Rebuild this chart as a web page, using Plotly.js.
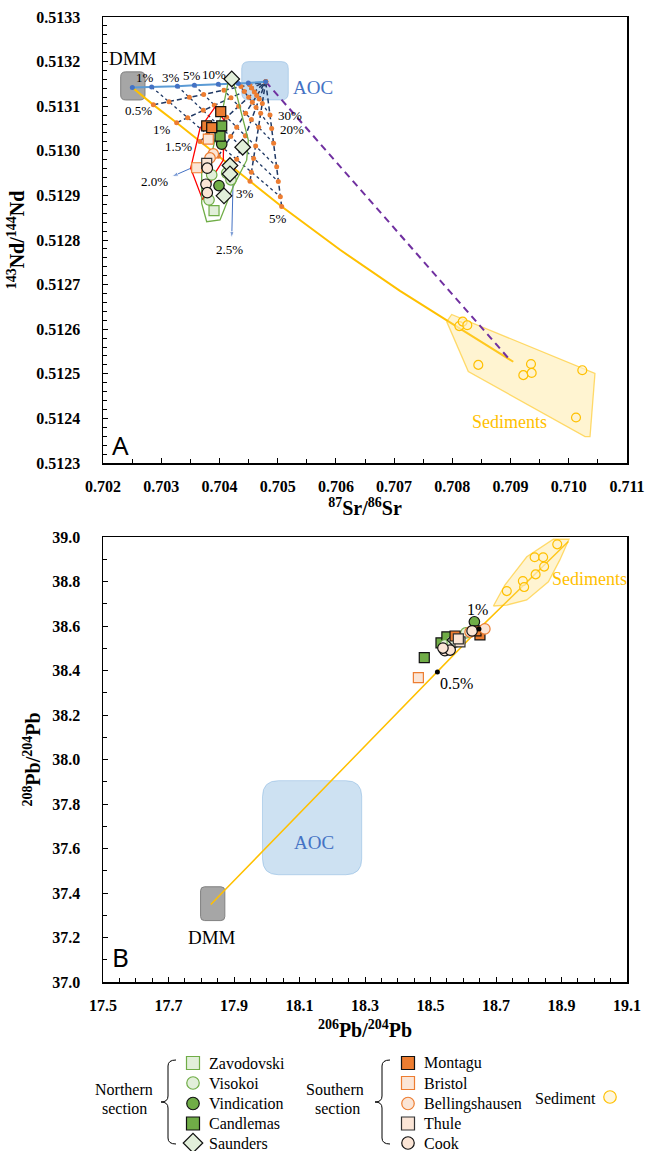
<!DOCTYPE html>
<html><head><meta charset="utf-8">
<script src="https://cdn.plot.ly/plotly-3.0.1.min.js"></script>
<style>body{margin:0;background:#fff}#chart{width:650px;height:1151px}</style>
</head><body><div id="chart"></div>
<script>
// ================= DATA =================
// ---- Panel A: 87Sr/86Sr vs 143Nd/144Nd ----
const zavodovskiSr = [0.703907];
const zavodovskiNd = [0.512866];
const visokoiSr = [0.703867, 0.704125, 0.704198, 0.703821];
const visokoiNd = [0.512946, 0.512950, 0.512935, 0.512890];
const vindicationSr = [0.704039, 0.703992];
const vindicationNd = [0.513015, 0.512922];
const candlemasSr = [0.704039, 0.704010];
const candlemasNd = [0.513056, 0.513033];
const saundersSr = [0.704211, 0.704399, 0.704181, 0.704181, 0.704078];
const saundersNd = [0.513161, 0.513008, 0.512967, 0.512948, 0.512899];
const montaguSr = [0.704022, 0.703781, 0.703867];
const montaguNd = [0.513088, 0.513056, 0.513052];
const bristolSr = [0.703809, 0.703609];
const bristolNd = [0.513026, 0.512962];
const bellingSr = [0.703894, 0.703838];
const bellingNd = [0.512993, 0.512984];
const thuleSr = [0.703781];
const thuleNd = [0.512972];
const cookSr = [0.703791, 0.703769, 0.703791];
const cookNd = [0.512961, 0.512925, 0.512906];
const sedimentSr = [0.708120, 0.708178, 0.708257, 0.708446, 0.709351, 0.709219, 0.709363, 0.710232, 0.710124];
const sedimentNd = [0.512607, 0.512617, 0.512609, 0.512520, 0.512522, 0.512497, 0.512502, 0.512508, 0.512402];

// fields (outlines)
const sedFieldSr = [0.707903, 0.707989, 0.710450, 0.710365, 0.710279, 0.708274, 0.707903];
const sedFieldNd = [0.512617, 0.512633, 0.512501, 0.512359, 0.512359, 0.512505, 0.512617];
const southFieldSr = [0.703924, 0.704078, 0.704066, 0.703924, 0.703712, 0.703506, 0.703666, 0.703924];
const southFieldNd = [0.513098, 0.513069, 0.512979, 0.512950, 0.512890, 0.512961, 0.513050, 0.513098];
const northFieldSr = [0.704152, 0.704238, 0.704496, 0.704468, 0.704238, 0.704010, 0.703781, 0.703695, 0.703695, 0.703838, 0.703953, 0.704066, 0.704152];
const northFieldNd = [0.513155, 0.513155, 0.513024, 0.512979, 0.512920, 0.512845, 0.512841, 0.512882, 0.512950, 0.512979, 0.513039, 0.513099, 0.513155];

// end-member boxes [x0, x1, y0, y1]
const dmmBoxA = [0.702304, 0.702721, 0.513114, 0.513177];
const aocBoxA = [0.704382, 0.705183, 0.513114, 0.513200];

// DMM–AOC mixing (DMM, 1, 3, 5, 10, 20, 30 %, AOC)
const aocMixSr = [0.702504, 0.702836, 0.703277, 0.703569, 0.703981, 0.704324, 0.704496, 0.704794];
const aocMixNd = [0.513142, 0.513143, 0.513145, 0.513147, 0.513149, 0.513151, 0.513152, 0.513155];
// DMM–sediment mixing (DMM, 0.5, 1, 1.5, 2, 2.5, 3, 5 %, ... sediment)
const sedMixSr = [0.702504, 0.702865, 0.703265, 0.703666, 0.703981, 0.704239, 0.704525, 0.705069, 0.706071, 0.707101, 0.707926, 0.709047];
const sedMixNd = [0.513142, 0.513103, 0.513063, 0.513021, 0.512988, 0.512961, 0.512932, 0.512875, 0.512778, 0.512686, 0.512618, 0.512527];
// AOC–sediment (purple dashed)
const aocSedSr = [0.704794, 0.708990];
const aocSedNd = [0.513155, 0.512531];
// three-component grid: lines of constant sediment fraction (to AOC)
const grid05Sr = [0.702865, 0.703134, 0.703483, 0.703729, 0.704078, 0.704370, 0.704519, 0.704794];
const grid05Nd = [0.513103, 0.513110, 0.513120, 0.513126, 0.513136, 0.513144, 0.513148, 0.513155];
const grid1Sr = [0.703265, 0.703454, 0.703723, 0.703912, 0.704198, 0.704427, 0.704553, 0.704794];
const grid1Nd = [0.513063, 0.513074, 0.513091, 0.513102, 0.513119, 0.513133, 0.513141, 0.513155];
const grid15Sr = [0.703666, 0.703792, 0.703981, 0.704124, 0.704330, 0.704502, 0.704599, 0.704794];
const grid15Nd = [0.513021, 0.513036, 0.513059, 0.513075, 0.513100, 0.513120, 0.513132, 0.513155];
const grid2Sr = [0.703981, 0.704067, 0.704193, 0.704296, 0.704450, 0.704565, 0.704639, 0.704794];
const grid2Nd = [0.512988, 0.513006, 0.513032, 0.513053, 0.513084, 0.513109, 0.513124, 0.513155];
const grid25Sr = [0.704239, 0.704296, 0.704376, 0.704445, 0.704548, 0.704628, 0.704685, 0.704794];
const grid25Nd = [0.512961, 0.512981, 0.513009, 0.513034, 0.513070, 0.513097, 0.513116, 0.513155];
const grid3Sr = [0.704525, 0.704548, 0.704588, 0.704622, 0.704674, 0.704708, 0.704737, 0.704794];
const grid3Nd = [0.512932, 0.512952, 0.512983, 0.513011, 0.513053, 0.513084, 0.513106, 0.513155];
const grid5Sr = [0.705069, 0.705046, 0.705011, 0.704983, 0.704931, 0.704897, 0.704868, 0.704794];
const grid5Nd = [0.512875, 0.512897, 0.512931, 0.512964, 0.513017, 0.513050, 0.513080, 0.513155];
// pointer arrows for the 2.0 % and 2.5 % labels (tail, head)
const arrow20Sr = [0.703981, 0.703180];
const arrow20Nd = [0.512988, 0.512942];
const arrow25Sr = [0.704239, 0.704211];
const arrow25Nd = [0.512961, 0.512804];

// ---- Panel B: 206Pb/204Pb vs 208Pb/204Pb ----
const zavodovskiPb6 = [18.566];
const zavodovskiPb8 = [38.528];
const visokoiPb6 = [18.544, 18.608];
const visokoiPb8 = [38.515, 38.569];
const vindicationPb6 = [18.634];
const vindicationPb8 = [38.619];
const candlemasPb6 = [18.481, 18.532, 18.550];
const candlemasPb8 = [38.458, 38.524, 38.551];
const saundersPb6 = [18.575];
const saundersPb8 = [38.537];
const montaguPb6 = [18.651, 18.639, 18.575];
const montaguPb8 = [38.560, 38.578, 38.555];
const bristolPb6 = [18.463];
const bristolPb8 = [38.368];
const bellingPb6 = [18.666, 18.621];
const bellingPb8 = [38.587, 38.573];
const thulePb6 = [18.590, 18.585];
const thulePb8 = [38.529, 38.542];
const cookPb6 = [18.544, 18.560, 18.538, 18.627];
const cookPb8 = [38.489, 38.492, 38.501, 38.578];
const sedimentPb6 = [18.733, 18.782, 18.786, 18.821, 18.818, 18.844, 18.847, 18.887];
const sedimentPb8 = [38.757, 38.802, 38.775, 38.832, 38.909, 38.909, 38.867, 38.967];
const sedFieldPb6 = [18.692, 18.727, 18.794, 18.875, 18.923, 18.895, 18.860, 18.794, 18.733, 18.692];
const sedFieldPb8 = [38.690, 38.784, 38.911, 38.990, 38.990, 38.897, 38.799, 38.717, 38.694, 38.690];
const sedMixPb6 = [17.829, 18.521, 18.648, 18.921];
const sedMixPb8 = [37.348, 38.393, 38.587, 38.980];
const mixMarkPb6 = [18.521, 18.648];
const mixMarkPb8 = [38.393, 38.587];
const dmmBoxB = [17.798, 17.872, 37.276, 37.428];
const aocBoxB = [17.987, 18.290, 37.482, 37.905];

const northNames = ['Zavodovski', 'Visokoi', 'Vindication', 'Candlemas', 'Saunders'];
const southNames = ['Montagu', 'Bristol', 'Bellingshausen', 'Thule', 'Cook'];

// ================= STYLE =================
const SERIF = 'Liberation Serif';
const sty = {
  Zavodovski: {symbol: 'square', color: '#e2efda', line: '#70ad47'},
  Visokoi: {symbol: 'circle', color: '#e2efda', line: '#70ad47'},
  Vindication: {symbol: 'circle', color: '#70ad47', line: '#111'},
  Candlemas: {symbol: 'square', color: '#70ad47', line: '#111'},
  Saunders: {symbol: 'diamond', color: '#e2efda', line: '#111'},
  Montagu: {symbol: 'square', color: '#ed7d31', line: '#111'},
  Bristol: {symbol: 'square', color: '#fbe5d6', line: '#ed7d31'},
  Bellingshausen: {symbol: 'circle', color: '#fbe5d6', line: '#ed7d31'},
  Thule: {symbol: 'square', color: '#fbe5d6', line: '#333'},
  Cook: {symbol: 'circle', color: '#fbe5d6', line: '#111'},
  Sediment: {symbol: 'circle', color: 'rgba(255,242,204,0.6)', line: '#ffc000'}
};
const sizeOf = {square: 10, circle: 10.5, diamond: 12};
const legendSizeOf = {square: 13, circle: 12.5, diamond: 15};

function pts(x, y, name, xa, ya, scale, sizes) {
  const s = sty[name];
  const sz = sizes ? sizes[s.symbol] : sizeOf[s.symbol] * (scale || 1);
  return {type: 'scatter', mode: 'markers', x, y, xaxis: xa, yaxis: ya, hoverinfo: 'skip', showlegend: false,
    marker: {symbol: s.symbol, size: sz, color: s.color, line: {color: s.line, width: 1.2}}};
}
function line(x, y, xa, ya, color, width, dash, mk) {
  const t = {type: 'scatter', mode: mk ? 'lines+markers' : 'lines', x, y, xaxis: xa, yaxis: ya, hoverinfo: 'skip',
    showlegend: false, line: {color, width, dash: dash || 'solid'}};
  if (mk) t.marker = mk;
  return t;
}
function poly(x, y, xa, ya, lineColor, fill) {
  return {type: 'scatter', mode: 'lines', x, y, xaxis: xa, yaxis: ya, hoverinfo: 'skip', showlegend: false,
    fill: fill ? 'toself' : 'none', fillcolor: fill || undefined, line: {color: lineColor, width: 1.3}};
}
function arrow(x, y) {
  return {type: 'scatter', mode: 'lines+markers', x, y, xaxis: 'x', yaxis: 'y', hoverinfo: 'skip', showlegend: false,
    line: {color: '#4472c4', width: 1},
    marker: {symbol: ['circle', 'arrow'], size: [0, 7], angleref: 'previous', color: '#4472c4'}};
}

// ================= TRACES =================
const traces = [];
const NAVY = '#1f3864';
const orangeDot = {size: 5, color: '#ed7d31'};
// Panel A lines
traces.push(line(sedMixSr, sedMixNd, 'x', 'y', '#ffc000', 2));
traces.push(poly(sedFieldSr, sedFieldNd, 'x', 'y', 'rgba(255,192,0,0.55)', 'rgba(255,217,102,0.3)'));
traces.push(line(aocSedSr, aocSedNd, 'x', 'y', '#7030a0', 2, '7px,5px'));
for (let i = 1; i <= 6; i++) {
  traces.push(line([aocMixSr[i], grid5Sr[i]], [aocMixNd[i], grid5Nd[i]], 'x', 'y', NAVY, 1.3, 'dot'));
}
[[grid05Sr, grid05Nd], [grid1Sr, grid1Nd], [grid15Sr, grid15Nd], [grid2Sr, grid2Nd], [grid25Sr, grid25Nd],
 [grid3Sr, grid3Nd], [grid5Sr, grid5Nd]].forEach(g => traces.push(line(g[0], g[1], 'x', 'y', NAVY, 1.5, '5px,3px', orangeDot)));
traces.push(line(aocMixSr, aocMixNd, 'x', 'y', '#5b9bd5', 2, 'solid', {size: 5, color: '#4472c4'}));
traces.push(arrow(arrow20Sr, arrow20Nd));
traces.push(arrow(arrow25Sr, arrow25Nd));
traces.push(poly(southFieldSr, southFieldNd, 'x', 'y', '#ff0000'));
traces.push(poly(northFieldSr, northFieldNd, 'x', 'y', '#70ad47'));
// Panel A points
traces.push(pts(zavodovskiSr, zavodovskiNd, 'Zavodovski', 'x', 'y'));
traces.push(pts(visokoiSr, visokoiNd, 'Visokoi', 'x', 'y'));
traces.push(pts(vindicationSr, vindicationNd, 'Vindication', 'x', 'y'));
traces.push(pts(candlemasSr, candlemasNd, 'Candlemas', 'x', 'y'));
traces.push(pts(saundersSr, saundersNd, 'Saunders', 'x', 'y'));
traces.push(pts(montaguSr, montaguNd, 'Montagu', 'x', 'y'));
traces.push(pts(bristolSr, bristolNd, 'Bristol', 'x', 'y'));
traces.push(pts(bellingSr, bellingNd, 'Bellingshausen', 'x', 'y'));
traces.push(pts(thuleSr, thuleNd, 'Thule', 'x', 'y'));
traces.push(pts(cookSr, cookNd, 'Cook', 'x', 'y'));
traces.push(pts(sedimentSr, sedimentNd, 'Sediment', 'x', 'y', 0.85));

// Panel B
traces.push(line(sedMixPb6, sedMixPb8, 'x2', 'y2', '#ffc000', 1.5));
traces.push(poly(sedFieldPb6, sedFieldPb8, 'x2', 'y2', 'rgba(255,192,0,0.55)', 'rgba(255,217,102,0.3)'));
traces.push(pts(candlemasPb6, candlemasPb8, 'Candlemas', 'x2', 'y2'));
traces.push(pts(vindicationPb6, vindicationPb8, 'Vindication', 'x2', 'y2'));
traces.push(pts(visokoiPb6, visokoiPb8, 'Visokoi', 'x2', 'y2'));
traces.push(pts(zavodovskiPb6, zavodovskiPb8, 'Zavodovski', 'x2', 'y2'));
traces.push(pts(saundersPb6, saundersPb8, 'Saunders', 'x2', 'y2'));
traces.push(pts(montaguPb6, montaguPb8, 'Montagu', 'x2', 'y2'));
traces.push(pts(bristolPb6, bristolPb8, 'Bristol', 'x2', 'y2'));
traces.push(pts(bellingPb6, bellingPb8, 'Bellingshausen', 'x2', 'y2'));
traces.push(pts(thulePb6, thulePb8, 'Thule', 'x2', 'y2'));
traces.push(pts(cookPb6, cookPb8, 'Cook', 'x2', 'y2'));
traces.push({type: 'scatter', mode: 'markers', x: mixMarkPb6, y: mixMarkPb8, xaxis: 'x2', yaxis: 'y2', hoverinfo: 'skip',
  showlegend: false, marker: {size: 5, color: '#000'}});
traces.push(pts(sedimentPb6, sedimentPb8, 'Sediment', 'x2', 'y2', 0.85));

// Legend (pixel-like axis x3/y3)
const rowY = [1063, 1083, 1103.5, 1123.5, 1143];
const annotations = [];
const legFont = {family: SERIF, size: 16, color: '#000'};
northNames.forEach((n, i) => {
  traces.push(pts([193], [rowY[i]], n, 'x3', 'y3', 1, legendSizeOf));
  annotations.push({xref: 'x3', yref: 'y3', x: 207, y: rowY[i], text: n, showarrow: false, xanchor: 'left', font: legFont});
});
southNames.forEach((n, i) => {
  traces.push(pts([408], [rowY[i]], n, 'x3', 'y3', 1, legendSizeOf));
  annotations.push({xref: 'x3', yref: 'y3', x: 422, y: rowY[i], text: n, showarrow: false, xanchor: 'left', font: legFont});
});
traces.push(pts([610], [1097], 'Sediment', 'x3', 'y3', 1, legendSizeOf));
[['Northern', 124, 1089], ['section', 124, 1108], ['Southern', 335, 1089], ['section', 337, 1108], ['Sediment', 565, 1098]]
  .forEach(a => annotations.push({xref: 'x3', yref: 'y3', x: a[1], y: a[2], text: a[0], showarrow: false, font: legFont}));

function brace(xr, xs, xt, yt, ym, yb) {
  const r = 6;
  return `M${xr},${yt} Q${xs},${yt} ${xs},${yt + r} L${xs},${ym - r} Q${xs},${ym} ${xt},${ym} Q${xs},${ym} ${xs},${ym + r} L${xs},${yb - r} Q${xs},${yb} ${xr},${yb}`;
}

// ================= LAYOUT =================
const W = 650, H = 1151, M = {l: 103, r: 23, t: 17, b: 0};
const plotH = H - M.t - M.b, plotW = W - M.l - M.r;
const dom = py => 1 - (py - M.t) / plotH;
const domA = [dom(463), 1], domB = [dom(982), dom(537)], domL = [0, dom(1054)];
const rangeA = {x: [0.702, 0.711], y: [0.5123, 0.5133]};
const rangeB = {x: [17.5, 19.1], y: [37.0, 39.0]};

function rrect(b, rPx, xr, yr, d) {
  const kx = (xr[1] - xr[0]) / plotW, ky = (yr[1] - yr[0]) / ((d[1] - d[0]) * plotH);
  const rx = rPx * kx, ry = rPx * ky;
  const [x0, x1, y0, y1] = b;
  return `M${x0 + rx},${y0} L${x1 - rx},${y0} Q${x1},${y0} ${x1},${y0 + ry} L${x1},${y1 - ry} Q${x1},${y1} ${x1 - rx},${y1} L${x0 + rx},${y1} Q${x0},${y1} ${x0},${y1 - ry} L${x0},${y0 + ry} Q${x0},${y0} ${x0 + rx},${y0} Z`;
}

const shapes = [
  {type: 'path', xref: 'x', yref: 'y', layer: 'below', path: rrect(dmmBoxA, 5, rangeA.x, rangeA.y, domA),
    fillcolor: '#a6a6a6', line: {color: '#808080', width: 1}},
  {type: 'path', xref: 'x', yref: 'y', layer: 'below', path: rrect(aocBoxA, 7, rangeA.x, rangeA.y, domA),
    fillcolor: 'rgba(91,155,213,0.35)', line: {color: 'rgba(91,155,213,0.35)', width: 1}},
  {type: 'path', xref: 'x2', yref: 'y2', layer: 'below', path: rrect(dmmBoxB, 4, rangeB.x, rangeB.y, domB),
    fillcolor: '#a6a6a6', line: {color: '#808080', width: 1}},
  {type: 'path', xref: 'x2', yref: 'y2', layer: 'below', path: rrect(aocBoxB, 16, rangeB.x, rangeB.y, domB),
    fillcolor: 'rgba(91,155,213,0.3)', line: {color: 'rgba(91,155,213,0.35)', width: 1}},
  {type: 'path', xref: 'x3', yref: 'y3', path: brace(176, 168, 161, 1060, 1102, 1144), line: {color: '#000', width: 1}},
  {type: 'path', xref: 'x3', yref: 'y3', path: brace(390, 382, 375, 1060, 1102, 1144), line: {color: '#000', width: 1}}
];

// Text labels
const txt = (x, y, text, size, color, xr, yr) => ({xref: xr || 'x', yref: yr || 'y', x, y, text, showarrow: false,
  font: {family: SERIF, size, color: color || '#000'}});
annotations.push(
  txt(0.702515, 0.513208, 'DMM', 19),
  txt(0.705607, 0.513143, 'AOC', 19, '#4472c4'),
  txt(0.702721, 0.513165, '1%', 13), txt(0.703163, 0.513165, '3%', 13),
  txt(0.703523, 0.513168, '5%', 13), txt(0.703912, 0.513170, '10%', 13),
  txt(0.702606, 0.513091, '0.5%', 13), txt(0.703008, 0.513047, '1%', 13),
  txt(0.703293, 0.513009, '1.5%', 13), txt(0.702893, 0.512931, '2.0%', 13),
  txt(0.704181, 0.512778, '2.5%', 13), txt(0.704439, 0.512905, '3%', 13),
  txt(0.705011, 0.512849, '5%', 13), txt(0.705212, 0.513080, '30%', 13),
  txt(0.705251, 0.513047, '20%', 13),
  txt(0.708990, 0.512393, 'Sediments', 18, '#ffc000'),
  txt(17.833, 37.202, 'DMM', 19, '#000', 'x2', 'y2'),
  txt(18.143, 37.627, 'AOC', 19, '#4472c4', 'x2', 'y2'),
  txt(18.580, 38.342, '0.5%', 16, '#000', 'x2', 'y2'),
  txt(18.644, 38.672, '1%', 16, '#000', 'x2', 'y2'),
  txt(18.987, 38.810, 'Sediments', 18, '#ffc000', 'x2', 'y2'),
  {xref: 'x domain', yref: 'y domain', x: 0.014, y: -0.005, xanchor: 'left', yanchor: 'bottom', text: 'A', showarrow: false,
    font: {family: 'Noto Sans', size: 26, color: '#000'}},
  {xref: 'x2 domain', yref: 'y2 domain', x: 0.014, y: 0.012, xanchor: 'left', yanchor: 'bottom', text: 'B', showarrow: false,
    font: {family: 'Noto Sans', size: 26, color: '#000'}}
);

const tickFont = {family: SERIF, size: 16, color: '#000', weight: 'bold'};
const titleFont = {family: SERIF, size: 20, color: '#000', weight: 'bold'};
function ax(extra) {
  return Object.assign({showline: true, linecolor: '#000', linewidth: 1.5, mirror: true, showgrid: false, zeroline: false,
    ticks: 'inside', ticklen: 5, tickwidth: 1, tickcolor: '#000', tickfont: tickFont, fixedrange: true}, extra);
}

const layout = {
  width: W, height: H, margin: M, showlegend: false, paper_bgcolor: '#fff', plot_bgcolor: '#fff',
  font: {family: SERIF},
  xaxis: ax({domain: [0, 1], anchor: 'y', range: rangeA.x, tick0: 0.702, dtick: 0.001, tickformat: '.3f',
    ticklabelstandoff: 8, minor: {dtick: 0.0005, ticks: 'inside', ticklen: 4, tickcolor: '#000'},
    title: {text: '<sup>87</sup>Sr/<sup>86</sup>Sr', font: titleFont, standoff: 1}}),
  yaxis: ax({domain: domA, anchor: 'x', range: rangeA.y, tick0: 0.5123, dtick: 0.0001, tickformat: '.4f',
    ticklabelstandoff: 18, minor: {dtick: 0.00002, ticks: 'inside', ticklen: 4, tickcolor: '#000'},
    title: {text: '<sup>143</sup>Nd/<sup>144</sup>Nd', font: titleFont, standoff: 6}}),
  xaxis2: ax({domain: [0, 1], anchor: 'y2', range: rangeB.x, tick0: 17.5, dtick: 0.2, tickformat: '.1f',
    ticklabelstandoff: 8, minor: {dtick: 0.05, ticks: 'inside', ticklen: 4, tickcolor: '#000'},
    title: {text: '<sup>206</sup>Pb/<sup>204</sup>Pb', font: titleFont, standoff: 10}}),
  yaxis2: ax({domain: domB, anchor: 'x2', range: rangeB.y, tick0: 37, dtick: 0.2, tickformat: '.1f',
    ticklabelstandoff: 18, minor: {dtick: 0.1, ticks: 'inside', ticklen: 4, tickcolor: '#000'},
    title: {text: '<sup>208</sup>Pb/<sup>204</sup>Pb', font: titleFont, standoff: 6}}),
  xaxis3: {domain: [0, 1], anchor: 'y3', range: [M.l, W - M.r], visible: false, fixedrange: true},
  yaxis3: {domain: domL, anchor: 'x3', range: [H, 1054], visible: false, fixedrange: true},
  shapes, annotations
};

Plotly.newPlot('chart', traces, layout, {staticPlot: true, displayModeBar: false});
</script></body></html>
